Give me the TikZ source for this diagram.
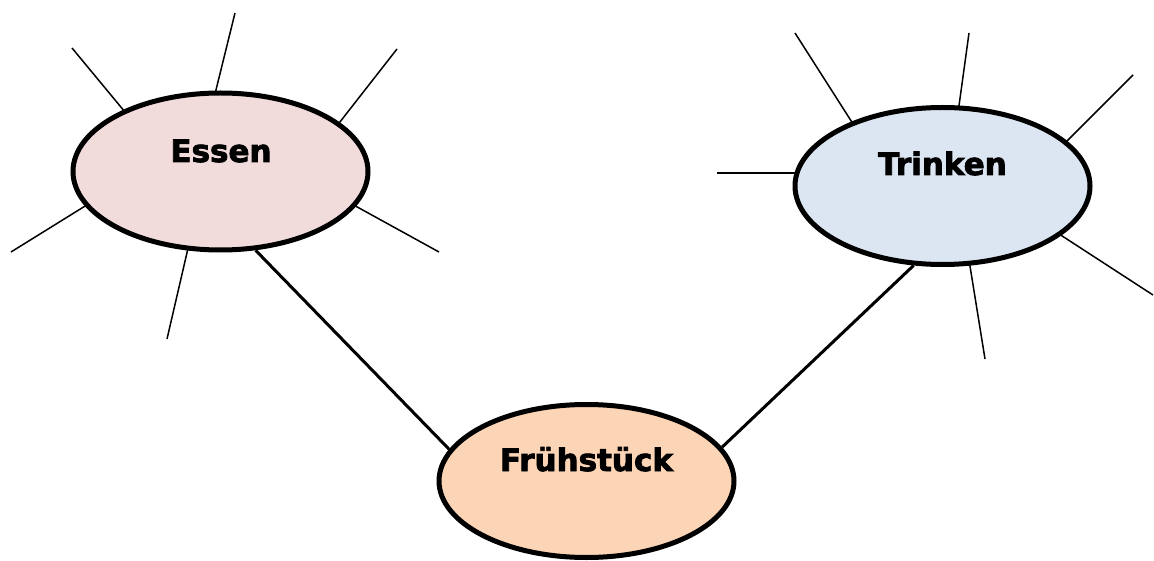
\documentclass[tikz,border=0pt]{standalone}
\usepackage{fontspec}
\setmainfont{Liberation Sans}
\newfontfamily\heavy{DejaVu Sans}[BoldFeatures={FakeBold=2.5}]
\usetikzlibrary{shapes.geometric}
\definecolor{essenfill}{HTML}{F2DCDB}
\definecolor{trinkfill}{HTML}{DCE6F2}
\definecolor{fruehfill}{HTML}{FBD5B5}
\tikzset{
  bub/.style={ellipse, draw=black, line width=5pt, inner sep=0pt, minimum width=295pt, minimum height=157pt},
  lbl/.style={anchor=base, font=\heavy\bfseries\fontsize{31}{34}\selectfont, text=black, inner sep=0pt},
  spoke/.style={line width=1.5pt, black},
  conn/.style={line width=3pt, black}
}
\begin{document}
\begin{tikzpicture}[x=1pt, y=-1pt]
\useasboundingbox[fill=white] (0,0) rectangle (1154,561);
% spokes of Essen
\coordinate (e1a) at (72,48);   \coordinate (e1b) at (125,112);
\coordinate (e2a) at (235,13);  \coordinate (e2b) at (214,98);
\coordinate (e3a) at (397,49);  \coordinate (e3b) at (336,127);
\coordinate (e4a) at (11,252);  \coordinate (e4b) at (90,203);
\coordinate (e5a) at (167,339); \coordinate (e5b) at (189,244);
\coordinate (e6a) at (439,252); \coordinate (e6b) at (350,203);
\foreach \i in {1,...,6} \draw[spoke] (e\i a) -- (e\i b);
% spokes of Trinken
\coordinate (t1a) at (795,33);   \coordinate (t1b) at (855,127);
\coordinate (t2a) at (969,33);   \coordinate (t2b) at (958,113);
\coordinate (t3a) at (1133,75);  \coordinate (t3b) at (1062,146);
\coordinate (t4a) at (717,173);  \coordinate (t4b) at (803,173);
\coordinate (t5a) at (1153,295); \coordinate (t5b) at (1056,232);
\coordinate (t6a) at (985,359);  \coordinate (t6b) at (969,260);
\foreach \i in {1,...,6} \draw[spoke] (t\i a) -- (t\i b);
% bubbles
\node[bub, fill=essenfill] (E) at (220.5,171.5) {};
\node[bub, fill=trinkfill] (T) at (942.5,186) {};
\node[bub, fill=fruehfill, minimum height=153pt] (F) at (586.5,481) {};
\node[lbl] (Et) at (221,162) {Essen};
\node[lbl] (Tt) at (942.5,175) {Trinken};
\node[lbl] (Ft) at (586.5,471) {Frühstück};
% connectors
\draw[conn] (E.-66.8) -- (F.167);
\draw[conn] (T.-110.6) -- (F.14.5);
\end{tikzpicture}
\end{document}
